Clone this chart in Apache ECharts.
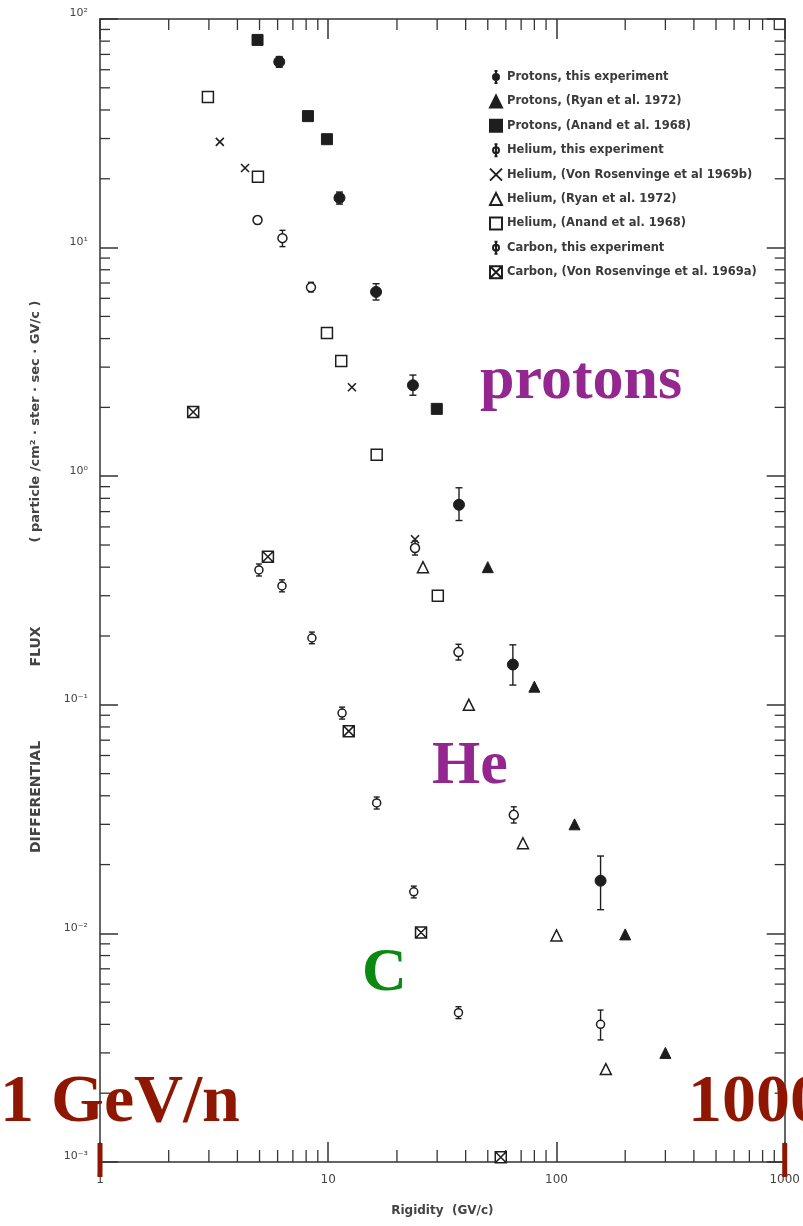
<!DOCTYPE html>
<html>
<head>
<meta charset="utf-8">
<script src="https://cdn.jsdelivr.net/npm/echarts@6/dist/echarts.min.js"></script>
<style>
  html, body { margin: 0; padding: 0; background: #fff; }
  #chart { width: 803px; height: 1226px; }
</style>
</head>
<body>
<div id="chart"></div>
<script>
// Rigidity (GV/c) and differential flux, one set of arrays per data set
const protonsThisX  = [6.1, 11.2, 16.2, 23.5, 37.4, 64.4, 156];
const protonsThisY  = [65, 16.5, 6.4, 2.5, 0.75, 0.15, 0.017];
const protonsThisLo = [61.5, 15.5, 5.9, 2.26, 0.64, 0.122, 0.0127];
const protonsThisHi = [68.5, 17.5, 6.95, 2.77, 0.89, 0.183, 0.0218];

const protonsRyanX = [50, 80, 120, 200, 300];
const protonsRyanY = [0.40, 0.12, 0.030, 0.0099, 0.0030];

const protonsAnandX = [4.9, 8.15, 9.87, 29.9];
const protonsAnandY = [81, 37.6, 29.8, 1.97];

const heliumThisX  = [4.9, 6.3, 8.4, 24, 37.2, 65];
const heliumThisY  = [13.2, 11.0, 6.7, 0.485, 0.17, 0.033];
const heliumThisLo = [12.7, 10.1, 6.4, 0.452, 0.157, 0.0304];
const heliumThisHi = [13.7, 11.9, 7.05, 0.52, 0.184, 0.0358];

const heliumRosenX = [3.35, 4.32, 12.7, 24];
const heliumRosenY = [29, 22.3, 2.45, 0.53];

const heliumRyanX = [26, 41.3, 71.3, 100, 164.5];
const heliumRyanY = [0.40, 0.10, 0.0248, 0.0098, 0.00255];

const heliumAnandX = [2.97, 4.92, 9.87, 11.4, 16.3, 30.2];
const heliumAnandY = [45.6, 20.4, 4.23, 3.19, 1.24, 0.30];

const carbonThisX  = [4.97, 6.27, 8.48, 11.5, 16.3, 23.7, 37.2, 156];
const carbonThisY  = [0.389, 0.331, 0.196, 0.092, 0.0372, 0.0152, 0.0045, 0.0040];
const carbonThisLo = [0.366, 0.312, 0.185, 0.0866, 0.035, 0.0143, 0.00424, 0.00342];
const carbonThisHi = [0.413, 0.352, 0.208, 0.0977, 0.0395, 0.0161, 0.00478, 0.00462];

const carbonRosenX = [2.56, 5.44, 12.3, 25.5, 57];
const carbonRosenY = [1.91, 0.444, 0.0767, 0.0101, 0.00105];

// Axis ticks
const xTickValues = [1, 10, 100, 1000];
const xTickLabels = ['1', '10', '100', '1000'];
const yTickValues = [0.001, 0.01, 0.1, 1, 10, 100];
const yTickLabels = ['10⁻³', '10⁻²', '10⁻¹', '10⁰', '10¹', '10²'];
const minorMultipliers = [2, 3, 4, 5, 6, 7, 8, 9];
const xDecades = [1, 10, 100];
const yDecades = [0.001, 0.01, 0.1, 1, 10];

const seriesNames = [
  'Protons, this experiment',
  'Protons, (Ryan et al. 1972)',
  'Protons, (Anand et al. 1968)',
  'Helium, this experiment',
  'Helium, (Von Rosenvinge et al 1969b)',
  'Helium, (Ryan et al. 1972)',
  'Helium, (Anand et al. 1968)',
  'Carbon, this experiment',
  'Carbon, (Von Rosenvinge et al. 1969a)'
];

const INK = '#1e1e1e';
const zip = (xs, ys) => xs.map((x, i) => [x, ys[i]]);
const zipErr = (xs, lo, hi) => xs.map((x, i) => [x, lo[i], hi[i]]);
const labelFor = (values, labels) => v => {
  const i = values.findIndex(t => Math.abs(Math.log10(t) - Math.log10(v)) < 1e-6);
  return i >= 0 ? labels[i] : '';
};

// symbol shapes
const SYM_CROSS = 'path://M0,0L10,10M10,0L0,10';
const SYM_BOXCROSS = 'path://M0,0H10V10H0ZM0,0L10,10M10,0L0,10';
const ICON_BAR_CIRCLE = 'path://M5,0V16M3,0H7M3,16H7M9,8A4,4,0,1,1,1,8A4,4,0,1,1,9,8Z';

const filled = { color: INK, borderColor: INK, borderWidth: 1, opacity: 1 };
const hollow = { color: '#fff', borderColor: INK, borderWidth: 1.5, opacity: 1 };
const stroked = { color: 'rgba(0,0,0,0)', borderColor: INK, borderWidth: 1.6, opacity: 1 };

function scatter(name, data, symbol, size, style) {
  return {
    type: 'scatter', name, data, symbol, symbolSize: size, symbolKeepAspect: true,
    itemStyle: style, z: 5, silent: true
  };
}

function errorBars(id, data, cap) {
  return {
    type: 'custom', name: id, data, z: 3, silent: true, clip: false,
    renderItem: (params, api) => {
      const x = api.value(0);
      const p1 = api.coord([x, api.value(1)]);
      const p2 = api.coord([x, api.value(2)]);
      const st = { stroke: INK, lineWidth: 1.4 };
      return {
        type: 'group',
        children: [
          { type: 'line', shape: { x1: p1[0], y1: p1[1], x2: p2[0], y2: p2[1] }, style: st },
          { type: 'line', shape: { x1: p1[0] - cap, y1: p1[1], x2: p1[0] + cap, y2: p1[1] }, style: st },
          { type: 'line', shape: { x1: p2[0] - cap, y1: p2[1], x2: p2[0] + cap, y2: p2[1] }, style: st }
        ]
      };
    }
  };
}

const axisLineStyle = { color: '#333', width: 1.5 };
const logX = {
  type: 'log', logBase: 10, min: 1, max: 1000,
  axisLine: { show: true, lineStyle: axisLineStyle },
  axisTick: { show: true, inside: true, length: 20, lineStyle: axisLineStyle },
  splitLine: { show: false }
};
const logY = {
  type: 'log', logBase: 10, min: 0.001, max: 100,
  axisLine: { show: true, lineStyle: axisLineStyle },
  axisTick: { show: true, inside: true, length: 18, lineStyle: axisLineStyle },
  splitLine: { show: false }
};

const chart = echarts.init(document.getElementById('chart'), null, { renderer: 'canvas' });

const option = {
  backgroundColor: '#fff',
  animation: false,
  grid: { left: 100, right: 18, top: 19, bottom: 64, containLabel: false },
  xAxis: [
    Object.assign({}, logX, {
      position: 'bottom',
      axisLabel: {
        show: true, margin: 12, fontSize: 12, color: '#444', fontFamily: 'DejaVu Sans',
        formatter: labelFor(xTickValues, xTickLabels)
      },
      name: 'Rigidity  (GV/c)', nameLocation: 'middle', nameGap: 43,
      nameTextStyle: { fontSize: 12, fontWeight: 'bold', color: '#444', fontFamily: 'DejaVu Sans' }
    }),
    Object.assign({}, logX, { position: 'top', axisLabel: { show: false } })
  ],
  yAxis: [
    Object.assign({}, logY, {
      position: 'left',
      axisLabel: {
        show: true, margin: 12, fontSize: 11, color: '#444', fontFamily: 'DejaVu Sans',
        verticalAlign: 'bottom', formatter: labelFor(yTickValues, yTickLabels)
      },
      name: '{s| }{a|DIFFERENTIAL}{b|FLUX}{c|( particle /cm² · ster · sec · GV/c )}',
      nameLocation: 'middle', nameRotate: 90, nameGap: 57,
      nameTextStyle: {
        fontSize: 13, fontWeight: 'bold', color: '#444', fontFamily: 'DejaVu Sans',
        rich: {
          s: { width: 37, align: 'center' },
          a: { width: 193, align: 'center', fontSize: 14, fontWeight: 'bold', color: '#444', fontFamily: 'DejaVu Sans' },
          b: { width: 108, align: 'center', fontSize: 14, fontWeight: 'bold', color: '#444', fontFamily: 'DejaVu Sans' },
          c: { width: 342, align: 'center', fontSize: 13, fontWeight: 'bold', color: '#444', fontFamily: 'DejaVu Sans' }
        }
      }
    }),
    Object.assign({}, logY, { position: 'right', axisLabel: { show: false } })
  ],
  legend: {
    show: true, orient: 'vertical', left: 484, top: 65,
    itemWidth: 12, itemHeight: 12, itemGap: 10.4,
    selectedMode: false,
    textStyle: { fontSize: 11.5, fontWeight: 'bold', color: '#3a3a3a', fontFamily: 'DejaVu Sans', lineHeight: 12 },
    data: [
      { name: seriesNames[0], icon: ICON_BAR_CIRCLE },
      { name: seriesNames[1], icon: 'triangle' },
      { name: seriesNames[2], icon: 'rect' },
      { name: seriesNames[3], icon: ICON_BAR_CIRCLE },
      { name: seriesNames[4], icon: SYM_CROSS },
      { name: seriesNames[5], icon: 'triangle' },
      { name: seriesNames[6], icon: 'rect' },
      { name: seriesNames[7], icon: ICON_BAR_CIRCLE },
      { name: seriesNames[8], icon: SYM_BOXCROSS }
    ]
  },
  series: [
    errorBars('protonErr', zipErr(protonsThisX, protonsThisLo, protonsThisHi), 3.5),
    errorBars('heliumErr', zipErr(heliumThisX, heliumThisLo, heliumThisHi), 3),
    errorBars('carbonErr', zipErr(carbonThisX, carbonThisLo, carbonThisHi), 3),
    scatter(seriesNames[0], zip(protonsThisX, protonsThisY), 'circle', 11, filled),
    scatter(seriesNames[1], zip(protonsRyanX, protonsRyanY), 'triangle', 11, filled),
    scatter(seriesNames[2], zip(protonsAnandX, protonsAnandY), 'rect', 11, filled),
    scatter(seriesNames[3], zip(heliumThisX, heliumThisY), 'circle', 9, hollow),
    scatter(seriesNames[4], zip(heliumRosenX, heliumRosenY), SYM_CROSS, 8, stroked),
    scatter(seriesNames[5], zip(heliumRyanX, heliumRyanY), 'triangle', 11, hollow),
    scatter(seriesNames[6], zip(heliumAnandX, heliumAnandY), 'rect', 11, hollow),
    scatter(seriesNames[7], zip(carbonThisX, carbonThisY), 'circle', 8, hollow),
    scatter(seriesNames[8], zip(carbonRosenX, carbonRosenY), SYM_BOXCROSS, 11, hollow)
  ]
};

chart.setOption(option);

// Minor log ticks on all four sides of the frame, plus the text overlays
const px = v => chart.convertToPixel({ xAxisIndex: 0 }, v);
const py = v => chart.convertToPixel({ yAxisIndex: 0 }, v);
const xLeft = px(1), xRight = px(1000), yTop = py(100), yBottom = py(0.001);
const tickStyle = { stroke: '#333', lineWidth: 1.3 };
const graphics = [];
xDecades.forEach(d => minorMultipliers.forEach(m => {
  const x = px(d * m);
  graphics.push({ type: 'line', silent: true, shape: { x1: x, y1: yBottom, x2: x, y2: yBottom - 12 }, style: tickStyle });
  graphics.push({ type: 'line', silent: true, shape: { x1: x, y1: yTop, x2: x, y2: yTop + 11 }, style: tickStyle });
}));
yDecades.forEach(d => minorMultipliers.forEach(m => {
  const y = py(d * m);
  graphics.push({ type: 'line', silent: true, shape: { x1: xLeft, y1: y, x2: xLeft + 10, y2: y }, style: tickStyle });
  graphics.push({ type: 'line', silent: true, shape: { x1: xRight, y1: y, x2: xRight - 10, y2: y }, style: tickStyle });
}));

// red markers at 1 and 1000 on the rigidity axis
[px(1), px(1000)].forEach(x => {
  graphics.push({ type: 'rect', silent: true, z: 20, shape: { x: x - 2.5, y: yBottom - 19, width: 5, height: 34 }, style: { fill: '#8f1600' } });
});

const serif = '"Liberation Serif", "Times New Roman", serif';
const note = (text, x, y, size, color) => ({
  type: 'text', silent: true, z: 30, x, y,
  style: { text, fill: color, font: 'bold ' + size + 'px ' + serif, textAlign: 'left', textVerticalAlign: 'middle' }
});
graphics.push(note('protons', 480, 382, 62, '#93278f'));
graphics.push(note('He', 432, 767, 62, '#93278f'));
graphics.push(note('C', 362, 974, 62, '#0b8a12'));
graphics.push(note('1 GeV/n', 0, 1103, 68, '#8f1600'));
graphics.push(note('1000', 688, 1103, 68, '#8f1600'));

chart.setOption({ graphic: { elements: graphics } });
</script>
</body>
</html>
